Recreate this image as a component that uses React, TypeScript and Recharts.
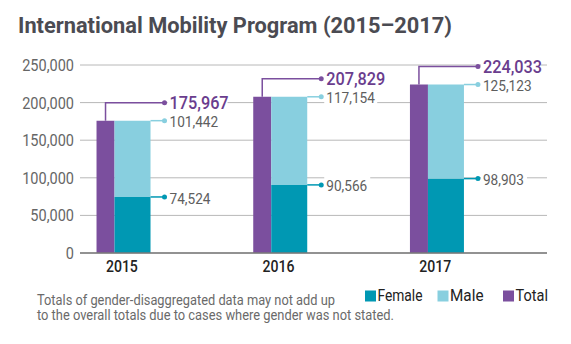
import { BarChart, Bar, XAxis, YAxis, CartesianGrid, LabelList } from "recharts";

const years = [2015, 2016, 2017];
const totals = [175967, 207829, 224033];
const female = [74524, 90566, 98903];
const male = [101442, 117154, 125123];
const yTicks = [0, 50000, 100000, 150000, 200000, 250000];
const title = "International Mobility Program (2015–2017)";
const noteLines = [
  "Totals of gender-disaggregated data may not add up",
  "to the overall totals due to cases where gender was not stated.",
];
const legendItems = [
  { key: "female", label: "Female" },
  { key: "male", label: "Male" },
  { key: "total", label: "Total" },
];

const data = years.map((year, i) => ({ year, total: totals[i], female: female[i], male: male[i] }));

const PURPLE = "#7b4f9e";
const TEAL = "#0098b3";
const LIGHT = "#88cfdf";
const COLORS: Record<string, string> = { total: PURPLE, female: TEAL, male: LIGHT };
const FONT = "Roboto, 'Noto Sans', sans-serif";
const SQUEEZE = 0.88; // the original uses a condensed face

const TOTAL_W = 18;
const STACK_W = 36;
const fmt = (v: number) => v.toLocaleString("en-US");

function box(props: any) {
  const vb = props.viewBox ?? props;
  return { x: Number(vb.x), y: Number(vb.y), width: Number(vb.width) };
}

// condensed text: scale horizontally around its anchor point
function CText({ x, y, children, ...rest }: any) {
  return (
    <text transform={`translate(${x},${y}) scale(${SQUEEZE},1)`} fontFamily={FONT} {...rest}>
      {children}
    </text>
  );
}

function TotalLabel(props: any) {
  const { x, y, width } = box(props);
  const cx = x + width / 2;
  const ly = y - 18;
  const dotX = x + width + STACK_W + 14;
  const text = fmt(props.value);
  return (
    <g>
      <rect x={dotX + 3} y={ly - 10} width={text.length * 8 + 4} height={20} fill="#fff" />
      <polyline points={`${cx},${y} ${cx},${ly} ${dotX},${ly}`} fill="none" stroke={PURPLE} strokeWidth={1.5} />
      <circle cx={dotX} cy={ly} r={2.5} fill={PURPLE} />
      <CText x={dotX + 5} y={ly} dy="0.36em" fill="#6a3d8e" fontSize={18.5} fontWeight={500}>
        {text}
      </CText>
    </g>
  );
}

function makeSideLabel(color: string) {
  return (props: any) => {
    const { x, y, width } = box(props);
    const x0 = x + width;
    const dotX = x0 + 14;
    const text = fmt(props.value);
    return (
      <g>
        <rect x={dotX + 3} y={y - 9} width={text.length * 7 + 4} height={18} fill="#fff" />
        <line x1={x0} y1={y} x2={dotX} y2={y} stroke={color} strokeWidth={1.5} />
        <circle cx={dotX} cy={y} r={2.5} fill={color} />
        <CText x={dotX + 5} y={y + 1} dy="0.36em" fill="#5e5e5e" fontSize={15.5}>
          {text}
        </CText>
      </g>
    );
  };
}

const FemaleLabel = makeSideLabel(TEAL);
const MaleLabel = makeSideLabel(LIGHT);

function YTick(props: any) {
  const { y, payload } = props;
  return (
    <CText x={74} y={y} dy="0.36em" textAnchor="end" fill="#666" fontSize={16.5}>
      {fmt(payload.value)}
    </CText>
  );
}

function XTick(props: any) {
  const { x, payload } = props;
  return (
    <CText x={x - 2} y={272.3} textAnchor="middle" fill="#222" fontSize={16} fontWeight={500}>
      {payload.value}
    </CText>
  );
}

export default function App() {
  return (
    <div style={{ position: "absolute", left: 0, top: 0, width: 571, height: 344, background: "#fff", overflow: "hidden" }}>
      <BarChart width={571} height={344} data={data} barGap={0} margin={{ top: 65, right: 24, bottom: 61, left: 0 }}>
        <CartesianGrid vertical={false} stroke="#b8b8b8" strokeWidth={1} />
        <XAxis
          type="number"
          dataKey="year"
          domain={[2014.72, 2017.7]}
          ticks={years}
          height={30}
          allowDataOverflow
          tick={<XTick />}
          tickLine={false}
          axisLine={{ stroke: "#7a7a7a", strokeWidth: 1.5 }}
        />
        <YAxis domain={[0, 250000]} ticks={yTicks} width={80} axisLine={false} tickLine={false} tick={<YTick />} />
        <Bar dataKey="total" stackId="t" fill={PURPLE} barSize={TOTAL_W} isAnimationActive={false}>
          <LabelList dataKey="total" content={<TotalLabel />} />
        </Bar>
        <Bar dataKey="female" stackId="g" fill={TEAL} barSize={STACK_W} isAnimationActive={false}>
          <LabelList dataKey="female" content={<FemaleLabel />} />
        </Bar>
        <Bar dataKey="male" stackId="g" fill={LIGHT} barSize={STACK_W} isAnimationActive={false}>
          <LabelList dataKey="male" content={<MaleLabel />} />
        </Bar>
      </BarChart>
      <svg width={571} height={344} style={{ position: "absolute", left: 0, top: 0, pointerEvents: "none" }}>
        <text
          x={18}
          y={33.3}
          textLength={434}
          lengthAdjust="spacingAndGlyphs"
          fontFamily={FONT}
          fontSize={22.5}
          fontWeight="bold"
          fill="#4b4b52"
        >
          {title}
        </text>
        {noteLines.map((line, i) => (
          <text
            key={i}
            x={37}
            y={305 + i * 14.7}
            textLength={i === 0 ? 298 : 357}
            lengthAdjust="spacingAndGlyphs"
            fontFamily={FONT}
            fontSize={14}
            fill="#6a6a6a"
          >
            {line}
          </text>
        ))}
        {legendItems.map((item, i) => {
          const sq = [365, 437.5, 503][i];
          const widths = [45, 33.5, 32.5];
          return (
            <g key={item.key}>
              <rect x={sq} y={290.5} width={11} height={11} fill={COLORS[item.key]} />
              <text
                x={sq + 12.5}
                y={301.3}
                textLength={widths[i]}
                lengthAdjust="spacingAndGlyphs"
                fontFamily={FONT}
                fontSize={16.5}
                fill="#222"
              >
                {item.label}
              </text>
            </g>
          );
        })}
      </svg>
    </div>
  );
}
